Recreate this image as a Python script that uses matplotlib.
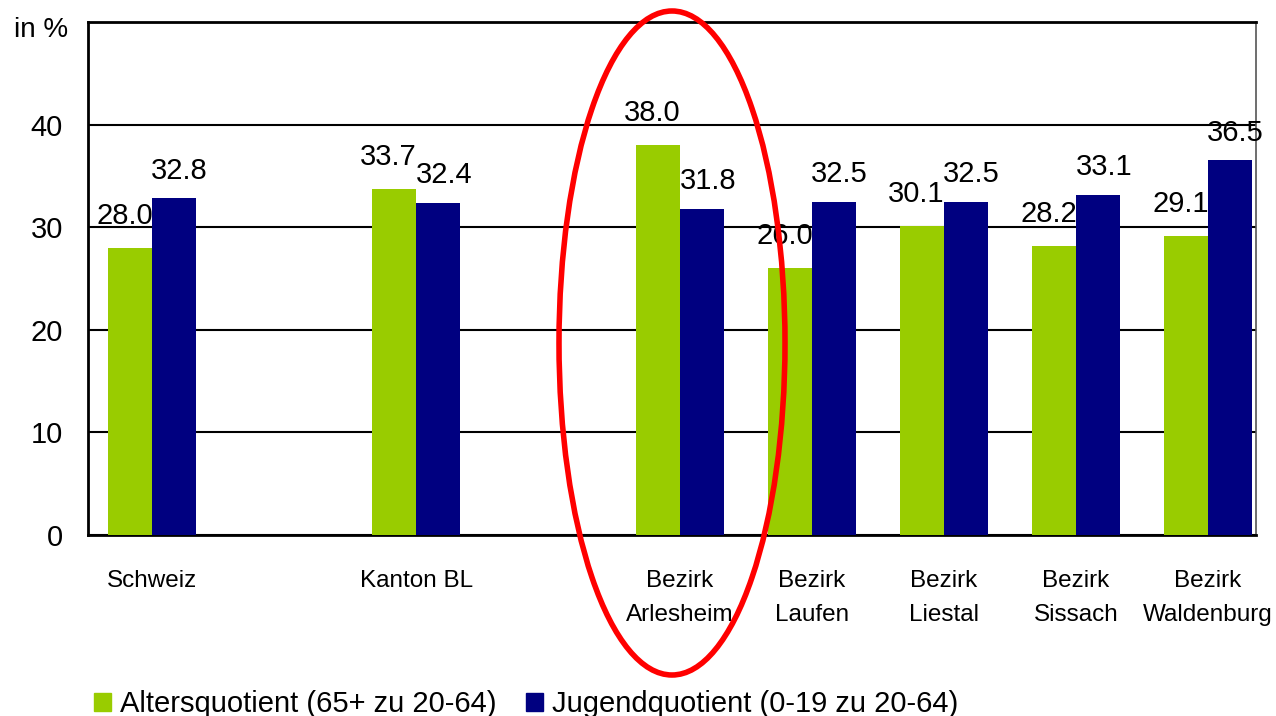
import matplotlib
matplotlib.use("Agg")
from matplotlib import pyplot as plt
from matplotlib.patches import Ellipse, Patch
from matplotlib import font_manager

orte = ["Schweiz", "Kanton BL", "Bezirk\nArlesheim", "Bezirk\nLaufen", "Bezirk\nLiestal", "Bezirk\nSissach", "Bezirk\nWaldenburg"]
pos = [0, 2, 4, 5, 6, 7, 8]
alter = [28.0, 33.7, 38.0, 26.0, 30.1, 28.2, 29.1]
jugend = [32.8, 32.4, 31.8, 32.5, 32.5, 33.1, 36.5]
yticks = [0, 10, 20, 30, 40]

gruen = "#99cc00"
blau = "#000080"

namen = [f.name for f in font_manager.fontManager.ttflist]
schmal = "Liberation Sans Narrow" if "Liberation Sans Narrow" in namen else "Liberation Sans"
plt.rcParams["font.family"] = ["Liberation Sans", "DejaVu Sans"]

fig = plt.figure(figsize=(12.76, 7.16), dpi=100)
ax = fig.add_axes([0.069, 0.2528, 0.915, 0.7165])

b = 0.335
ax.bar([p - b / 2 for p in pos], alter, width=b, color=gruen, zorder=3)
ax.bar([p + b / 2 for p in pos], jugend, width=b, color=blau, zorder=3)

for p, a, j in zip(pos, alter, jugend):
    ax.annotate(f"{a:.1f}", (p - b / 2, a), xytext=(-4, 13), textcoords="offset points",
                ha="center", va="bottom", fontsize=21)
    ax.annotate(f"{j:.1f}", (p + b / 2, j), xytext=(4, 10), textcoords="offset points",
                ha="center", va="bottom", fontsize=21)

ax.set_xlim(-0.485, 8.36)
ax.set_ylim(0, 50)
ax.set_yticks(yticks)
ax.set_yticklabels([str(v) for v in yticks], fontsize=21)
ax.tick_params(axis="y", length=0, pad=18)
ax.set_xticks(pos)
ax.set_xticklabels(orte, fontsize=17.5, family=schmal, linespacing=1.75)
ax.tick_params(axis="x", length=0, pad=25)
ax.grid(axis="y", color="black", linewidth=1.5, zorder=1)
for s in ["left", "top", "bottom"]:
    ax.spines[s].set_linewidth(2)
ax.spines["right"].set_color("#555555")
ax.spines["right"].set_linewidth(1.2)

fig.text(0.053, 0.958, "in %", ha="right", va="center", fontsize=20)

fig.legend(handles=[Patch(color=gruen, label="Altersquotient (65+ zu 20-64)"),
                    Patch(color=blau, label="Jugendquotient (0-19 zu 20-64)")],
           loc="lower left", bbox_to_anchor=(0.053, -0.04), ncol=2, frameon=False,
           fontsize=21, handlelength=0.6, handleheight=0.6, handletextpad=0.3, columnspacing=1.0)

kreis = Ellipse((672 / 1276, 1 - 343 / 716), 226 / 1276, 664 / 716, transform=fig.transFigure,
                fill=False, edgecolor="red", linewidth=4, clip_on=False, zorder=10)
fig.patches.append(kreis)

fig.savefig("out.png", dpi=100)
